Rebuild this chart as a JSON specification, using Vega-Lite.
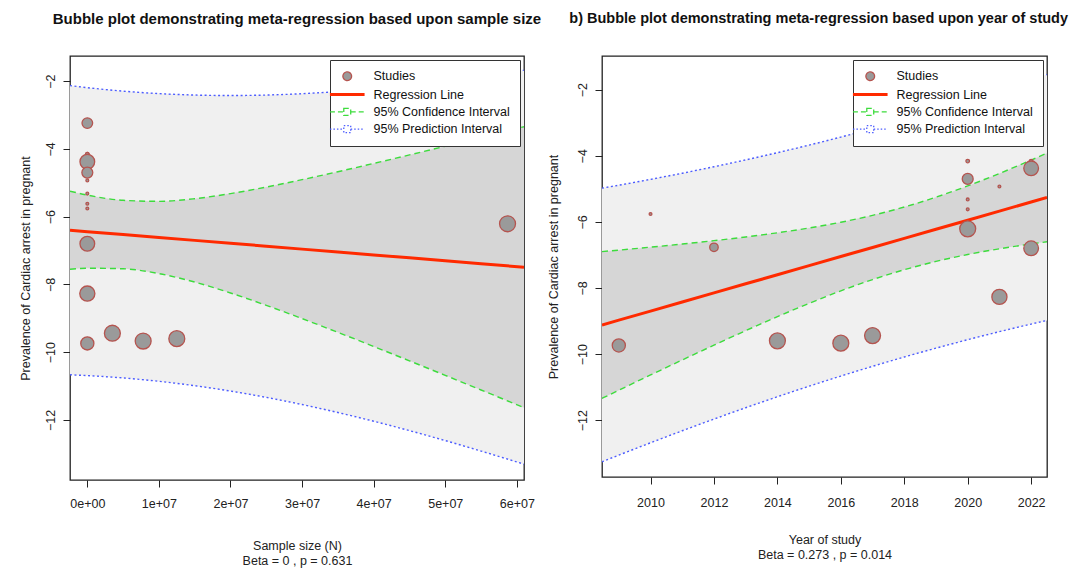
{
  "$schema": "https://vega.github.io/schema/vega-lite/v6.json",
  "background": "white",
  "padding": {"left": 18, "top": 10, "right": 0, "bottom": 0},
  "config": {
    "font": "Liberation Sans",
    "view": {"stroke": "#222222", "strokeWidth": 1.3},
    "axis": {"domain": false, "grid": false, "tickColor": "#222222", "tickSize": 7, "labelFontSize": 12.5, "labelColor": "#222222", "titleFontSize": 12.5, "titleFontWeight": "normal", "titleColor": "#222222", "titleLineHeight": 15},
    "title": {"fontSize": 15, "fontWeight": "bold", "color": "#111111", "offset": 29.5},
    "legend": {"title": null, "orient": "top-right", "offset": 4, "fillColor": "white", "strokeColor": "#333333", "padding": 10, "labelFontSize": 12.5, "labelColor": "#111111", "labelOffset": 20, "symbolOffset": 1, "rowPadding": 4.3, "symbolSize": 300, "labelLimit": 300}
  },
  "datasets": {
    "studies": [
      {"N": 0, "year": 2021, "logprev": -3.24, "weight": 3.6},
      {"N": 0, "year": 2020, "logprev": -4.16, "weight": 0.4},
      {"N": 0, "year": 2022, "logprev": -4.16, "weight": 0.4},
      {"N": 0, "year": 2022, "logprev": -4.38, "weight": 6.9},
      {"N": 0, "year": 2020, "logprev": -4.70, "weight": 3.8},
      {"N": 0, "year": 2021, "logprev": -4.93, "weight": 0.25},
      {"N": 0, "year": 2020, "logprev": -5.32, "weight": 0.25},
      {"N": 0, "year": 2020, "logprev": -5.62, "weight": 0.25},
      {"N": 0, "year": 2010, "logprev": -5.76, "weight": 0.25},
      {"N": 0, "year": 2012, "logprev": -6.77, "weight": 2.3},
      {"N": 0, "year": 2022, "logprev": -6.80, "weight": 6.9},
      {"N": 0, "year": 2021, "logprev": -8.27, "weight": 7.3},
      {"N": 0, "year": 2009, "logprev": -9.74, "weight": 5.5},
      {"N": 3500000, "year": 2017, "logprev": -9.44, "weight": 8.1},
      {"N": 7800000, "year": 2016, "logprev": -9.67, "weight": 8.1},
      {"N": 12500000, "year": 2014, "logprev": -9.60, "weight": 8.1},
      {"N": 58700000, "year": 2020, "logprev": -6.21, "weight": 8.1}
    ],
    "bandN": [
      {"N": -2420000, "fit": -6.400, "ci_lo": -7.552, "ci_hi": -5.248, "pi_lo": -10.666, "pi_hi": -2.134},
      {"N": 0, "fit": -6.442, "ci_lo": -7.521, "ci_hi": -5.363, "pi_lo": -10.690, "pi_hi": -2.194},
      {"N": 5000000, "fit": -6.528, "ci_lo": -7.538, "ci_hi": -5.518, "pi_lo": -10.759, "pi_hi": -2.297},
      {"N": 10000000, "fit": -6.614, "ci_lo": -7.680, "ci_hi": -5.548, "pi_lo": -10.858, "pi_hi": -2.370},
      {"N": 15000000, "fit": -6.700, "ci_lo": -7.930, "ci_hi": -5.470, "pi_lo": -10.988, "pi_hi": -2.412},
      {"N": 20000000, "fit": -6.786, "ci_lo": -8.252, "ci_hi": -5.320, "pi_lo": -11.146, "pi_hi": -2.426},
      {"N": 25000000, "fit": -6.872, "ci_lo": -8.617, "ci_hi": -5.127, "pi_lo": -11.332, "pi_hi": -2.412},
      {"N": 30000000, "fit": -6.958, "ci_lo": -9.007, "ci_hi": -4.909, "pi_lo": -11.544, "pi_hi": -2.372},
      {"N": 35000000, "fit": -7.044, "ci_lo": -9.414, "ci_hi": -4.674, "pi_lo": -11.779, "pi_hi": -2.309},
      {"N": 40000000, "fit": -7.130, "ci_lo": -9.830, "ci_hi": -4.430, "pi_lo": -12.036, "pi_hi": -2.224},
      {"N": 45000000, "fit": -7.216, "ci_lo": -10.254, "ci_hi": -4.178, "pi_lo": -12.313, "pi_hi": -2.119},
      {"N": 50000000, "fit": -7.302, "ci_lo": -10.682, "ci_hi": -3.922, "pi_lo": -12.607, "pi_hi": -1.997},
      {"N": 55000000, "fit": -7.388, "ci_lo": -11.114, "ci_hi": -3.662, "pi_lo": -12.916, "pi_hi": -1.860},
      {"N": 61000000, "fit": -7.491, "ci_lo": -11.635, "ci_hi": -3.347, "pi_lo": -13.304, "pi_hi": -1.678}
    ],
    "bandY": [
      {"year": 2008.47, "fit": -9.120, "ci_lo": -11.341, "ci_hi": -6.899, "pi_lo": -13.260, "pi_hi": -4.980},
      {"year": 2009, "fit": -8.974, "ci_lo": -11.094, "ci_hi": -6.854, "pi_lo": -13.058, "pi_hi": -4.890},
      {"year": 2010, "fit": -8.699, "ci_lo": -10.633, "ci_hi": -6.765, "pi_lo": -12.685, "pi_hi": -4.713},
      {"year": 2011, "fit": -8.424, "ci_lo": -10.178, "ci_hi": -6.670, "pi_lo": -12.321, "pi_hi": -4.527},
      {"year": 2012, "fit": -8.149, "ci_lo": -9.730, "ci_hi": -6.568, "pi_lo": -11.967, "pi_hi": -4.331},
      {"year": 2013, "fit": -7.874, "ci_lo": -9.292, "ci_hi": -6.456, "pi_lo": -11.624, "pi_hi": -4.124},
      {"year": 2014, "fit": -7.599, "ci_lo": -8.868, "ci_hi": -6.330, "pi_lo": -11.292, "pi_hi": -3.906},
      {"year": 2015, "fit": -7.324, "ci_lo": -8.464, "ci_hi": -6.184, "pi_lo": -10.972, "pi_hi": -3.676},
      {"year": 2016, "fit": -7.049, "ci_lo": -8.087, "ci_hi": -6.011, "pi_lo": -10.665, "pi_hi": -3.433},
      {"year": 2017, "fit": -6.774, "ci_lo": -7.746, "ci_hi": -5.802, "pi_lo": -10.371, "pi_hi": -3.177},
      {"year": 2018, "fit": -6.499, "ci_lo": -7.448, "ci_hi": -5.550, "pi_lo": -10.089, "pi_hi": -2.909},
      {"year": 2019, "fit": -6.224, "ci_lo": -7.196, "ci_hi": -5.252, "pi_lo": -9.821, "pi_hi": -2.627},
      {"year": 2020, "fit": -5.949, "ci_lo": -6.987, "ci_hi": -4.911, "pi_lo": -9.565, "pi_hi": -2.333},
      {"year": 2021, "fit": -5.674, "ci_lo": -6.814, "ci_hi": -4.534, "pi_lo": -9.322, "pi_hi": -2.026},
      {"year": 2022, "fit": -5.399, "ci_lo": -6.668, "ci_hi": -4.130, "pi_lo": -9.092, "pi_hi": -1.706},
      {"year": 2022.5, "fit": -5.261, "ci_lo": -6.602, "ci_hi": -3.920, "pi_lo": -8.981, "pi_hi": -1.541}
    ]
  },
  "resolve": {"scale": {"color": "independent", "size": "independent"}, "legend": {"color": "independent"}},
  "spacing": 4,
  "hconcat": [
    {
      "width": 454,
      "height": 424,
      "title": {"text": "Bubble plot demonstrating meta-regression based upon sample size"},
      "layer": [
        {
          "data": {"name": "bandN"},
          "mark": {"type": "area", "fill": "#f0f0f0", "clip": true, "interpolate": "monotone"},
          "encoding": {
            "x": {"field": "N", "type": "quantitative", "scale": {"domain": [-2420000, 61000000], "nice": false, "zero": false},
                  "axis": {"values": [0, 10000000, 20000000, 30000000, 40000000, 50000000, 60000000], "labelExpr": "datum.value == 0 ? '0e+00' : format(datum.value / 10000000, 'd') + 'e+07'", "labelPadding": 10, "titlePadding": 30,
                           "title": ["Sample size (N)", "Beta =  0 , p =  0.631"]}},
            "y": {"field": "pi_lo", "type": "quantitative", "scale": {"domain": [-13.77, -1.26], "nice": false, "zero": false},
                  "axis": {"values": [-12, -10, -8, -6, -4, -2], "labelAngle": -90, "labelPadding": 6, "titlePadding": 12, "title": "Prevalence of Cardiac arrest in pregnant"}},
            "y2": {"field": "pi_hi"}
          }
        },
        {
          "data": {"name": "bandN"},
          "mark": {"type": "area", "fill": "#d6d6d6", "clip": true, "interpolate": "monotone"},
          "encoding": {"x": {"field": "N", "type": "quantitative"}, "y": {"field": "ci_lo", "type": "quantitative"}, "y2": {"field": "ci_hi"}}
        },
        {
          "data": {"name": "bandN"},
          "mark": {"type": "line", "strokeWidth": 1.4, "strokeDash": [2, 2.5], "clip": true, "interpolate": "monotone"},
          "encoding": {"x": {"field": "N", "type": "quantitative"}, "y": {"field": "pi_lo", "type": "quantitative"}, "color": {"datum": "95% Prediction Interval"}}
        },
        {
          "data": {"name": "bandN"},
          "mark": {"type": "line", "strokeWidth": 1.4, "strokeDash": [2, 2.5], "clip": true, "interpolate": "monotone"},
          "encoding": {"x": {"field": "N", "type": "quantitative"}, "y": {"field": "pi_hi", "type": "quantitative"}, "color": {"datum": "95% Prediction Interval"}}
        },
        {
          "data": {"name": "bandN"},
          "mark": {"type": "line", "strokeWidth": 1.4, "strokeDash": [6, 4], "clip": true, "interpolate": "monotone"},
          "encoding": {"x": {"field": "N", "type": "quantitative"}, "y": {"field": "ci_lo", "type": "quantitative"}, "color": {"datum": "95% Confidence Interval"}}
        },
        {
          "data": {"name": "bandN"},
          "mark": {"type": "line", "strokeWidth": 1.4, "strokeDash": [6, 4], "clip": true, "interpolate": "monotone"},
          "encoding": {"x": {"field": "N", "type": "quantitative"}, "y": {"field": "ci_hi", "type": "quantitative"}, "color": {"datum": "95% Confidence Interval"}}
        },
        {
          "data": {"name": "bandN"},
          "mark": {"type": "line", "strokeWidth": 3, "clip": true},
          "encoding": {"x": {"field": "N", "type": "quantitative"}, "y": {"field": "fit", "type": "quantitative"},
            "color": {"datum": "Regression Line", "type": "nominal",
              "scale": {"domain": ["Studies", "Regression Line", "95% Confidence Interval", "95% Prediction Interval"], "range": ["#b5544f", "#ff2a00", "#3ddc3d", "#4d5dff"]},
              "legend": {
                "symbolType": {"expr": "datum.value === 'Studies' ? 'M-0.5,0A0.5,0.5,0,1,1,0.5,0A0.5,0.5,0,1,1,-0.5,0Z' : datum.value === 'Regression Line' ? 'M-2,0H2' : 'M-2,0H-0.4M0.4,0H2M-0.4,-0.4H0.4V0.4H-0.4Z'"},
                "symbolFillColor": {"expr": "datum.value === 'Studies' ? '#9a9a9a' : 'transparent'"},
                "symbolStrokeWidth": {"expr": "datum.value === 'Regression Line' ? 3 : 1.3"},
                "symbolDash": {"expr": "datum.value === '95% Confidence Interval' ? [5, 3] : datum.value === '95% Prediction Interval' ? [1.5, 2] : [1, 0]"}
              }}}
        },
        {
          "data": {"name": "studies"},
          "mark": {"type": "point", "filled": true, "opacity": 1, "fill": "#9a9a9a", "stroke": "#b5544f", "strokeWidth": 1.3, "clip": true},
          "encoding": {
            "x": {"field": "N", "type": "quantitative"},
            "y": {"field": "logprev", "type": "quantitative"},
            "size": {"field": "weight", "type": "quantitative", "scale": {"domain": [0, 10], "range": [0, 314]}, "legend": null}
          }
        }
      ]
    },
    {
      "width": 445,
      "height": 421,
      "title": {"text": "b)  Bubble plot demonstrating meta-regression based upon year of study", "fontSize": 14.5, "anchor": "end", "dx": 21},
      "layer": [
        {
          "data": {"name": "bandY"},
          "mark": {"type": "area", "fill": "#f0f0f0", "clip": true, "interpolate": "monotone"},
          "encoding": {
            "x": {"field": "year", "type": "quantitative", "scale": {"domain": [2008.47, 2022.5], "nice": false, "zero": false},
                  "axis": {"values": [2010, 2012, 2014, 2016, 2018, 2020, 2022], "format": "d", "labelPadding": 12.5, "titlePadding": 24,
                           "title": ["Year of study", "Beta =  0.273 , p =  0.014"]}},
            "y": {"field": "pi_lo", "type": "quantitative", "scale": {"domain": [-13.72, -0.98], "nice": false, "zero": false},
                  "axis": {"values": [-12, -10, -8, -6, -4, -2], "labelAngle": -90, "labelPadding": 6, "titlePadding": 16, "title": "Prevalence of Cardiac arrest in pregnant"}},
            "y2": {"field": "pi_hi"}
          }
        },
        {
          "data": {"name": "bandY"},
          "mark": {"type": "area", "fill": "#d6d6d6", "clip": true, "interpolate": "monotone"},
          "encoding": {"x": {"field": "year", "type": "quantitative"}, "y": {"field": "ci_lo", "type": "quantitative"}, "y2": {"field": "ci_hi"}}
        },
        {
          "data": {"name": "bandY"},
          "mark": {"type": "line", "strokeWidth": 1.4, "strokeDash": [2, 2.5], "clip": true, "interpolate": "monotone"},
          "encoding": {"x": {"field": "year", "type": "quantitative"}, "y": {"field": "pi_lo", "type": "quantitative"}, "color": {"datum": "95% Prediction Interval"}}
        },
        {
          "data": {"name": "bandY"},
          "mark": {"type": "line", "strokeWidth": 1.4, "strokeDash": [2, 2.5], "clip": true, "interpolate": "monotone"},
          "encoding": {"x": {"field": "year", "type": "quantitative"}, "y": {"field": "pi_hi", "type": "quantitative"}, "color": {"datum": "95% Prediction Interval"}}
        },
        {
          "data": {"name": "bandY"},
          "mark": {"type": "line", "strokeWidth": 1.4, "strokeDash": [6, 4], "clip": true, "interpolate": "monotone"},
          "encoding": {"x": {"field": "year", "type": "quantitative"}, "y": {"field": "ci_lo", "type": "quantitative"}, "color": {"datum": "95% Confidence Interval"}}
        },
        {
          "data": {"name": "bandY"},
          "mark": {"type": "line", "strokeWidth": 1.4, "strokeDash": [6, 4], "clip": true, "interpolate": "monotone"},
          "encoding": {"x": {"field": "year", "type": "quantitative"}, "y": {"field": "ci_hi", "type": "quantitative"}, "color": {"datum": "95% Confidence Interval"}}
        },
        {
          "data": {"name": "bandY"},
          "mark": {"type": "line", "strokeWidth": 3, "clip": true},
          "encoding": {"x": {"field": "year", "type": "quantitative"}, "y": {"field": "fit", "type": "quantitative"},
            "color": {"datum": "Regression Line", "type": "nominal",
              "scale": {"domain": ["Studies", "Regression Line", "95% Confidence Interval", "95% Prediction Interval"], "range": ["#b5544f", "#ff2a00", "#3ddc3d", "#4d5dff"]},
              "legend": {
                "symbolType": {"expr": "datum.value === 'Studies' ? 'M-0.5,0A0.5,0.5,0,1,1,0.5,0A0.5,0.5,0,1,1,-0.5,0Z' : datum.value === 'Regression Line' ? 'M-2,0H2' : 'M-2,0H-0.4M0.4,0H2M-0.4,-0.4H0.4V0.4H-0.4Z'"},
                "symbolFillColor": {"expr": "datum.value === 'Studies' ? '#9a9a9a' : 'transparent'"},
                "symbolStrokeWidth": {"expr": "datum.value === 'Regression Line' ? 3 : 1.3"},
                "symbolDash": {"expr": "datum.value === '95% Confidence Interval' ? [5, 3] : datum.value === '95% Prediction Interval' ? [1.5, 2] : [1, 0]"}
              }}}
        },
        {
          "data": {"name": "studies"},
          "mark": {"type": "point", "filled": true, "opacity": 1, "fill": "#9a9a9a", "stroke": "#b5544f", "strokeWidth": 1.3, "clip": true},
          "encoding": {
            "x": {"field": "year", "type": "quantitative"},
            "y": {"field": "logprev", "type": "quantitative"},
            "size": {"field": "weight", "type": "quantitative", "scale": {"domain": [0, 10], "range": [0, 314]}, "legend": null}
          }
        }
      ]
    }
  ]
}
